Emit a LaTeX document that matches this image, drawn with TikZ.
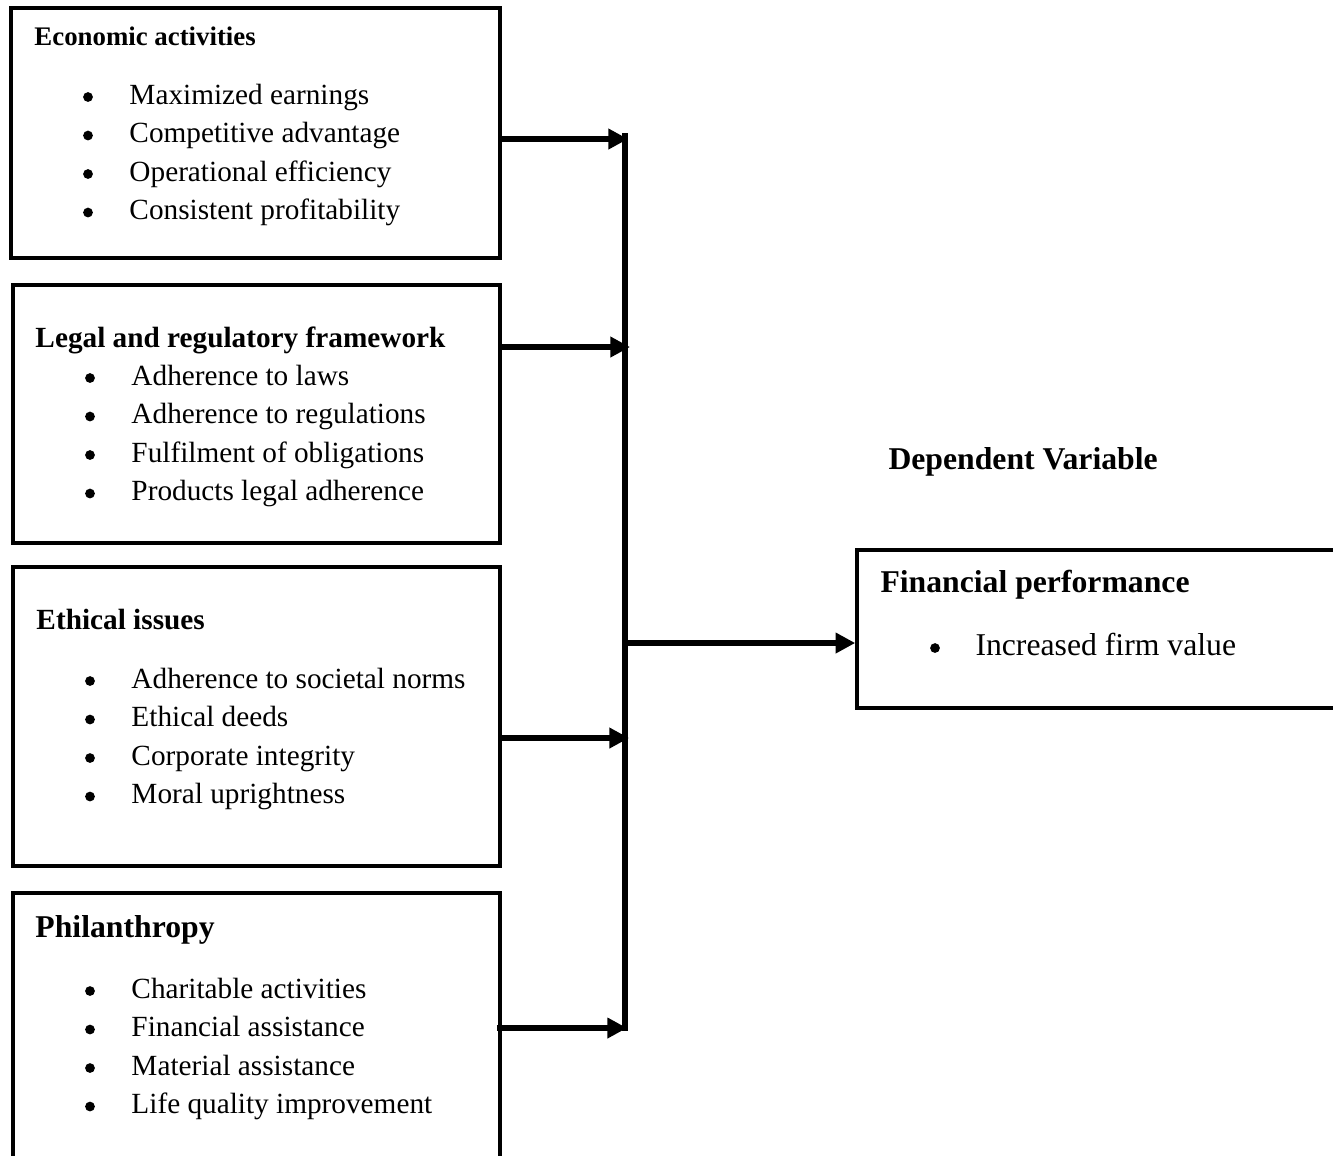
\documentclass[tikz,border=0pt]{standalone}
\usepackage{fontspec}
\setmainfont{Liberation Serif}
\usetikzlibrary{arrows.meta,fit}
\def\itemsep{38.5}

\begin{document}
\begin{tikzpicture}[x=0.41pt,y=-0.41pt]
	\tikzstyle{box}=[draw,line width=1.45pt,inner sep=0pt]
	\tikzstyle{title}=[anchor=base west,inner sep=0pt,font=\fontsize{12}{14}\selectfont\bfseries]
	\tikzstyle{item}=[anchor=base west,inner sep=0pt,font=\fontsize{12}{14}\selectfont]
	\tikzstyle{dot}=[circle,fill,inner sep=0pt,minimum size=4pt]
	\tikzstyle{arr}=[line width=2.4pt,-{Triangle[length=8pt,width=8pt]}]
	
	\useasboundingbox (0,0) rectangle (1333,1155);
	
	% Draw the boxes
	\node[box, fit={(11,8) (500,258)}] (econ) {};
	\node[box, fit={(13,285) (500,543)}] (legal) {};
	\node[box, fit={(13,567) (500,866)}] (ethic) {};
	\node[box, fit={(13,893) (500,1170)}] (phil) {};
	\node[box, fit={(857,550) (1350,708)}] (perf) {};
	
	% Titles
	\node[title, font=\fontsize{11}{13}\selectfont\bfseries] (econ-t) at (34,45) {Economic activities};
	\node[title] (legal-t) at (35,347) {Legal and regulatory framework};
	\node[title] (ethic-t) at (36,629) {Ethical issues};
	\node[title, font=\fontsize{13}{15}\selectfont\bfseries] (phil-t) at (35,937) {Philanthropy};
	\node[title, font=\fontsize{13}{15}\selectfont\bfseries] (perf-t) at (880,592) {Financial performance};
	\node[title, font=\fontsize{13}{15}\selectfont\bfseries] (dep) at (888,469) {Dependent Variable};
	
	% Bullet lists
	\foreach \txt [count=\i] in {Maximized earnings,Competitive advantage,Operational efficiency,Consistent profitability}{
	\node[dot] (econ-b\i) at (88,{97+\itemsep*(\i-1)}) {};
	\node[item] (econ-\i) at (129,{104+\itemsep*(\i-1)}) {\txt};
	}
	\foreach \txt [count=\i] in {Adherence to laws,Adherence to regulations,Fulfilment of obligations,Products legal adherence}{
	\node[dot] (legal-b\i) at (90,{378+\itemsep*(\i-1)}) {};
	\node[item] (legal-\i) at (131,{385+\itemsep*(\i-1)}) {\txt};
	}
	\foreach \txt [count=\i] in {Adherence to societal norms,Ethical deeds,Corporate integrity,Moral uprightness}{
	\node[dot] (ethic-b\i) at (90,{681+\itemsep*(\i-1)}) {};
	\node[item] (ethic-\i) at (131,{688+\itemsep*(\i-1)}) {\txt};
	}
	\foreach \txt [count=\i] in {Charitable activities,Financial assistance,Material assistance,Life quality improvement}{
	\node[dot] (phil-b\i) at (90,{991+\itemsep*(\i-1)}) {};
	\node[item] (phil-\i) at (131,{998+\itemsep*(\i-1)}) {\txt};
	}
	\node[dot] (perf-b1) at (935,648) {};
	\node[item, font=\fontsize{13}{15}\selectfont] (perf-1) at (975,655) {Increased firm value};
	
	% The collecting bar
	\coordinate (bus-top) at (625,133);
	\coordinate (bus-bot) at (625,1031);
	\coordinate (bus-out) at (625,643);
	\draw[line width=2.3pt] (bus-top) -- (bus-bot);
	
	\coordinate (in-1) at (628,139);
	\coordinate (in-2) at (630,347);
	\coordinate (in-3) at (629,738);
	\coordinate (in-4) at (627,1028);
	
	% Connect every box with the bar
	\draw[arr] (econ.east |- in-1) -- (in-1);
	\draw[arr] (legal.east |- in-2) -- (in-2);
	\draw[arr] (ethic.east |- in-3) -- (in-3);
	\draw[arr] ([xshift=-2pt]phil.east |- in-4) -- (in-4);
	
	% Connect the bar with the output
	\draw[arr] (bus-out) -- (perf.west |- bus-out);
\end{tikzpicture}
\end{document}
